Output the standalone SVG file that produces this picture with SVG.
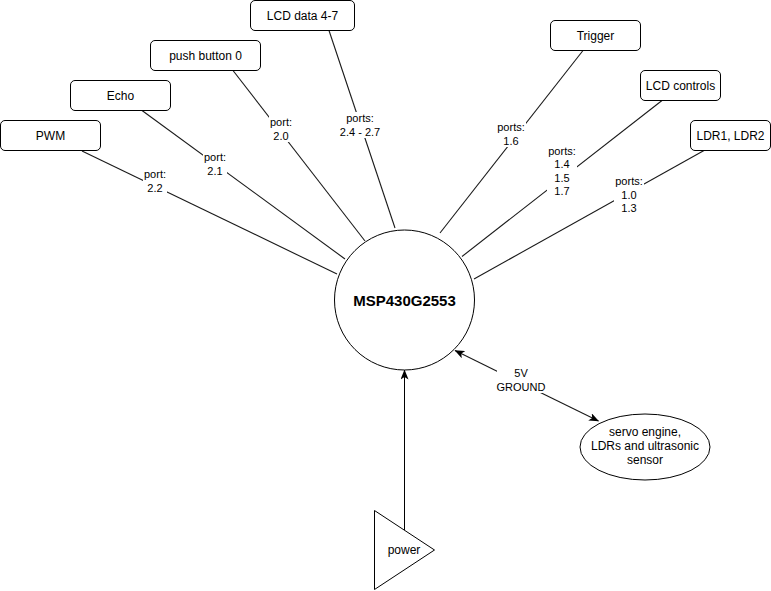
<svg xmlns="http://www.w3.org/2000/svg" width="771" height="591" viewBox="0 0 771 591">
<defs>
<style>
.box{fill:#fff;stroke:#000;stroke-width:1}
.t12{font-family:"Liberation Sans",Arial,sans-serif;font-size:12px;fill:#000;text-anchor:middle}
.t11{font-family:"Liberation Sans",Arial,sans-serif;font-size:11px;fill:#000;text-anchor:middle}
.bold{font-family:"Liberation Sans",Arial,sans-serif;font-size:15px;font-weight:bold;fill:#000;text-anchor:middle}
.ln{stroke:#1a1a1a;stroke-width:1.1;fill:none}
.lbg{fill:#fff;stroke:none}
</style>
<marker id="arr" viewBox="0 0 10 8" refX="9.5" refY="4" markerWidth="10" markerHeight="8" markerUnits="userSpaceOnUse" orient="auto-start-reverse">
<path d="M0,0 L10,4 L0,8 L2.5,4 Z" fill="#000"/>
</marker>
</defs>
<rect width="771" height="591" fill="#fff"/>

<g id="connectors">
<line class="ln" x1="82" y1="151" x2="337" y2="274"/>
<line class="ln" x1="142" y1="110.5" x2="345" y2="259"/>
<line class="ln" x1="233" y1="70.5" x2="365" y2="241"/>
<line class="ln" x1="329" y1="30.5" x2="395" y2="228"/>
<line class="ln" x1="583" y1="50.5" x2="440" y2="233"/>
<line class="ln" x1="662" y1="100.5" x2="462" y2="256.5"/>
<line class="ln" x1="704" y1="150.5" x2="474" y2="279"/>
<line x1="404.5" y1="530" x2="404.5" y2="370" stroke="#000" stroke-width="1" marker-end="url(#arr)"/>
<line x1="455" y1="350.5" x2="598.5" y2="421" stroke="#1a1a1a" stroke-width="1.1" marker-start="url(#arr)" marker-end="url(#arr)"/>

<g id="lbl-pwm">
<rect class="lbg" x="143" y="168" width="24" height="26"/>
<text class="t11" x="155" y="178.4">port:</text>
<text class="t11" x="155" y="191.6">2.2</text>
</g>
<g id="lbl-echo">
<rect class="lbg" x="203" y="151" width="24" height="26"/>
<text class="t11" x="215" y="161.4">port:</text>
<text class="t11" x="215" y="174.6">2.1</text>
</g>
<g id="lbl-push">
<rect class="lbg" x="269" y="116" width="24" height="26"/>
<text class="t11" x="281" y="126.4">port:</text>
<text class="t11" x="281" y="139.6">2.0</text>
</g>
<g id="lbl-lcddata">
<rect class="lbg" x="339" y="112" width="42" height="26"/>
<text class="t11" x="360" y="122.4">ports:</text>
<text class="t11" x="360" y="135.6">2.4 - 2.7</text>
</g>
<g id="lbl-trigger">
<rect class="lbg" x="496" y="121" width="30" height="26"/>
<text class="t11" x="511" y="131.4">ports:</text>
<text class="t11" x="511" y="144.6">1.6</text>
</g>
<g id="lbl-lcdctrl">
<rect class="lbg" x="547" y="145" width="30" height="52"/>
<text class="t11" x="562" y="155.2">ports:</text>
<text class="t11" x="562" y="168.4">1.4</text>
<text class="t11" x="562" y="181.6">1.5</text>
<text class="t11" x="562" y="194.8">1.7</text>
</g>
<g id="lbl-ldr">
<rect class="lbg" x="614" y="175" width="30" height="39"/>
<text class="t11" x="629" y="185.3">ports:</text>
<text class="t11" x="629" y="198.5">1.0</text>
<text class="t11" x="629" y="211.7">1.3</text>
</g>
<g id="lbl-power">
<rect class="lbg" x="497" y="367" width="48" height="26"/>
<text class="t11" x="521" y="377.4">5V</text>
<text class="t11" x="521" y="390.6">GROUND</text>
</g>
</g>

<g id="msp">
<circle cx="404.5" cy="300" r="70" fill="#fff" stroke="#000" stroke-width="1"/>
<text class="bold" x="404.5" y="306">MSP430G2553</text>
</g>

<g id="pwm">
<rect class="box" x="0.5" y="120.5" width="100" height="30" rx="4.5"/>
<text class="t12" x="50.5" y="139.8">PWM</text>
</g>
<g id="echo">
<rect class="box" x="70.5" y="80.5" width="100" height="30" rx="4.5"/>
<text class="t12" x="120.5" y="99.8">Echo</text>
</g>
<g id="pushbutton">
<rect class="box" x="150.5" y="40.5" width="110" height="30" rx="4.5"/>
<text class="t12" x="205.5" y="59.8">push button 0</text>
</g>
<g id="lcddata">
<rect class="box" x="250.5" y="0.5" width="104" height="30" rx="4.5"/>
<text class="t12" x="302.5" y="19.8">LCD data 4-7</text>
</g>
<g id="trigger">
<rect class="box" x="550.5" y="20.5" width="90" height="30" rx="4.5"/>
<text class="t12" x="595.5" y="39.8">Trigger</text>
</g>
<g id="lcdcontrols">
<rect class="box" x="640.5" y="70.5" width="80" height="30" rx="4.5"/>
<text class="t12" x="680.5" y="89.8">LCD controls</text>
</g>
<g id="ldr">
<rect class="box" x="690.5" y="120.5" width="80" height="30" rx="4.5"/>
<text class="t12" x="730.5" y="139.8">LDR1, LDR2</text>
</g>

<g id="sensors">
<ellipse cx="645" cy="447" rx="65" ry="33" fill="#fff" stroke="#000" stroke-width="1"/>
<text class="t12" x="645" y="435.5">servo engine,</text>
<text class="t12" x="645" y="449.5">LDRs and ultrasonic</text>
<text class="t12" x="645" y="463.5">sensor</text>
</g>

<g id="power">
<polygon points="374.5,510.5 434.5,550 374.5,589.5" fill="#fff" stroke="#000" stroke-width="1"/>
<text class="t12" x="404" y="553.8">power</text>
</g>
</svg>
